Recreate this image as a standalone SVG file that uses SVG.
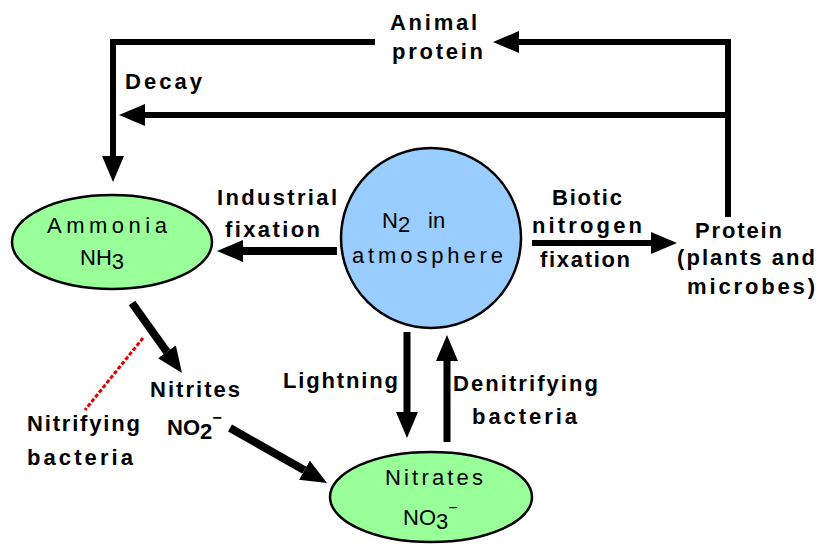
<svg xmlns="http://www.w3.org/2000/svg" width="823" height="547" viewBox="0 0 823 547">
<style>
.lbl{font-family:"Liberation Sans",Arial,sans-serif;font-weight:bold;font-size:22px;fill:#000}
.nt{font-family:"Liberation Sans",Arial,sans-serif;font-size:22px;fill:#000}
.ln{fill:none;stroke:#000;stroke-linejoin:miter}
.node{stroke:#000;stroke-width:2.5}
</style>
<defs>
<marker id="ah" viewBox="0 -11 26 22" refX="0" refY="0" markerWidth="26" markerHeight="22" markerUnits="userSpaceOnUse" orient="auto">
<path d="M0,-11 L26,0 L0,11 z" fill="#000"/>
</marker>
</defs>
<rect width="823" height="547" fill="#fff"/>
<g id="connectors">
<path class="ln" d="M728,217 V42 H519" stroke-width="6" marker-end="url(#ah)"/>
<path class="ln" d="M375,42 H113 V156" stroke-width="6" marker-end="url(#ah)"/>
<path class="ln" d="M728,115 H145" stroke-width="6" marker-end="url(#ah)"/>
<path class="ln" d="M337,251 H243" stroke-width="8" marker-end="url(#ah)"/>
<path class="ln" d="M532,243 H651" stroke-width="6" marker-end="url(#ah)"/>
<path class="ln" d="M407,332 V412" stroke-width="7" marker-end="url(#ah)"/>
<path class="ln" d="M447,442 V361" stroke-width="7" marker-end="url(#ah)"/>
<path class="ln" d="M132,303 L166.9,351.8" stroke-width="8" marker-end="url(#ah)"/>
<path class="ln" d="M230,428 L304.4,470.2" stroke-width="8" marker-end="url(#ah)"/>
<path d="M143,338 L85,410" stroke="#e00000" stroke-width="3" stroke-dasharray="4,2" fill="none"/>
</g>
<g id="labels">
<text class="lbl" x="390" y="30" textLength="87">Animal</text>
<text class="lbl" x="392" y="59" textLength="91">protein</text>
<text class="lbl" x="125" y="89" textLength="77">Decay</text>
<text class="lbl" x="217" y="205" textLength="120">Industrial</text>
<text class="lbl" x="225" y="237" textLength="95">fixation</text>
<text class="lbl" x="552" y="205" textLength="70">Biotic</text>
<text class="lbl" x="532" y="233" textLength="110">nitrogen</text>
<text class="lbl" x="540" y="267" textLength="90">fixation</text>
<text class="lbl" x="283" y="388" textLength="115">Lightning</text>
<text class="lbl" x="453" y="391" textLength="145">Denitrifying</text>
<text class="lbl" x="472" y="424" textLength="105">bacteria</text>
<text class="lbl" x="27" y="431" textLength="113">Nitrifying</text>
<text class="lbl" x="27" y="465" textLength="106">bacteria</text>
</g>
<g id="ammonia">
<ellipse class="node" cx="112" cy="242" rx="100" ry="47" fill="#99ff99"/>
<text class="nt" x="47" y="233" textLength="120">Ammonia</text>
<text class="nt" x="80" y="265">NH<tspan dy="4">3</tspan></text>
</g>
<g id="atmosphere">
<circle class="node" cx="431" cy="238" r="90" fill="#99ccff"/>
<text class="nt" x="382" y="228">N<tspan dy="4">2</tspan></text>
<text class="nt" x="428" y="228">in</text>
<text class="nt" x="352" y="263" textLength="151">atmosphere</text>
</g>
<g id="protein">
<text class="lbl" x="695" y="238" textLength="87">Protein</text>
<text class="lbl" x="677" y="265" textLength="138">(plants and</text>
<text class="lbl" x="687" y="294" textLength="128">microbes)</text>
</g>
<g id="nitrites">
<text class="lbl" x="150" y="397" textLength="90">Nitrites</text>
<text class="lbl" x="167" y="435">NO<tspan dy="4">2</tspan><tspan dy="-16" font-size="16">−</tspan></text>
</g>
<g id="nitrates">
<ellipse class="node" cx="431" cy="497" rx="101" ry="45" fill="#99ff99"/>
<text class="nt" x="385" y="485" textLength="98">Nitrates</text>
<text class="nt" x="403" y="525">NO<tspan dy="4">3</tspan><tspan dy="-16" font-size="16">−</tspan></text>
</g>
</svg>
